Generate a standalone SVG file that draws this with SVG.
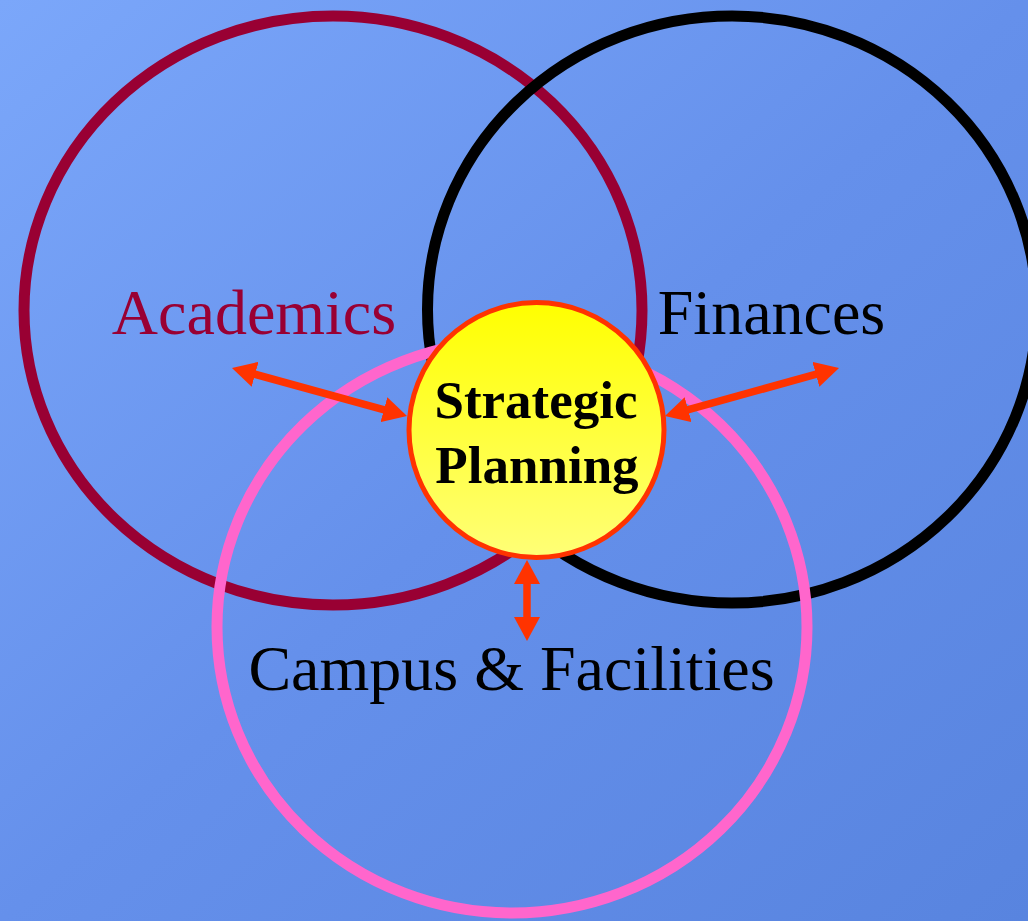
<svg xmlns="http://www.w3.org/2000/svg" width="1028" height="921" viewBox="0 0 1028 921">
  <defs>
    <linearGradient id="bg" x1="0" y1="0" x2="1" y2="1">
      <stop offset="0" stop-color="#7BA7FA"/>
      <stop offset="0.5" stop-color="#6590EB"/>
      <stop offset="1" stop-color="#5884DF"/>
    </linearGradient>
    <linearGradient id="sun" x1="0" y1="0" x2="0" y2="1">
      <stop offset="0" stop-color="#FFFF00"/>
      <stop offset="1" stop-color="#FFFF77"/>
    </linearGradient>
    <marker id="head" viewBox="0 0 24 26" markerWidth="24" markerHeight="26" refX="8" refY="13" orient="auto-start-reverse" markerUnits="userSpaceOnUse">
      <path d="M0,0 L24,13 L0,26 Z" fill="#FF3300"/>
    </marker>
  </defs>
  <style>
    .ring { fill: none; stroke-width: 11; }
    .label { font-family: "Liberation Serif", "Times New Roman", serif; font-size: 64px; text-anchor: middle; }
    .core { font-family: "Liberation Serif", "Times New Roman", serif; font-size: 53px; font-weight: bold; text-anchor: middle; fill: #000000; }
    .arrow { stroke: #FF3300; stroke-width: 7.5; fill: none; marker-start: url(#head); marker-end: url(#head); }
  </style>
  <rect x="0" y="0" width="1028" height="921" fill="url(#bg)"/>

  <g id="academics">
    <ellipse class="ring" cx="333" cy="310.5" rx="309" ry="294.5" stroke="#990033"/>
    <text class="label" x="254" y="334" fill="#990033">Academics</text>
  </g>
  <g id="finances">
    <ellipse class="ring" cx="732" cy="309.5" rx="304.5" ry="293.5" stroke="#000000"/>
    <text class="label" x="771.5" y="334" fill="#000000">Finances</text>
  </g>
  <g id="campus">
    <ellipse class="ring" cx="512" cy="627" rx="295" ry="286" stroke="#FF66CC"/>
    <text class="label" x="511.5" y="690" fill="#000000">Campus &amp; Facilities</text>
  </g>

  <g id="connectors">
    <line class="arrow" x1="247.4" y1="372.2" x2="391.6" y2="411.8"/>
    <line class="arrow" x1="680.4" y1="411.8" x2="823.6" y2="372.2"/>
    <line class="arrow" x1="527" y1="576" x2="527" y2="625"/>
  </g>

  <g id="strategic-planning">
    <circle cx="536.5" cy="430" r="127.5" fill="url(#sun)" stroke="#FF3300" stroke-width="5"/>
    <text class="core" x="536" y="418">Strategic</text>
    <text class="core" x="537" y="482.5">Planning</text>
  </g>
</svg>
